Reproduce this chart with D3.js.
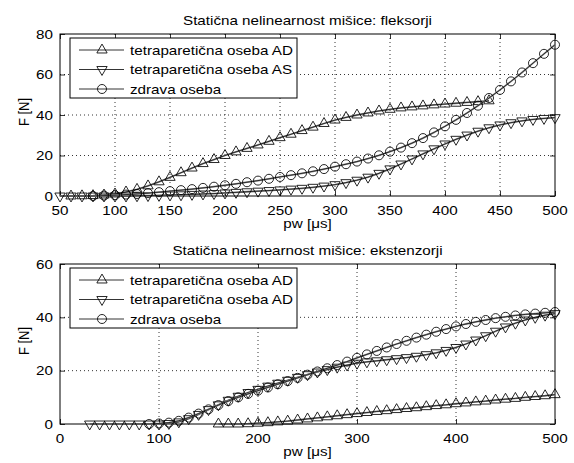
<!DOCTYPE html>
<html>
<head>
<meta charset="utf-8">
<script src="https://cdn.jsdelivr.net/npm/d3@7"></script>
<style>
  body { margin: 0; background: #fff; }
  svg { display: block; font-family: "Liberation Sans", Arial, sans-serif; }
</style>
</head>
<body>
<script>
// flexor panel: pulse width sampled every 10 us
var flexADStart = 60;
var flexAD = [0,0.1,0.2,0.5,1,2,3.3,5,7,9.2,11.5,13.8,16,18,20,21.8,23.5,25.2,27,28.8,
  30.5,32.3,34,35.8,37.5,38.8,40,41,42,42.8,43.5,44,44.5,45,45.4,45.8,46.2,46.6,47];
var flexASStart = 50;
var flexAS = [0,0,0,0,0,0,0,0.1,0.2,0.3,0.5,0.6,0.8,1,1.2,1.5,1.8,2.1,2.4,2.7,3,3.4,3.8,4.3,4.9,
  5.6,6.6,7.8,9.3,11.2,13.4,15.8,18.3,20.8,23.3,25.7,28,30.1,32,33.7,35.1,36.2,37.1,37.8,38.3,38.7];
var flexHealthyStart = 80;
var flexHealthy = [0,0.2,0.4,0.7,1,1.4,1.9,2.4,2.9,3.4,4,4.6,5.3,6,6.8,7.6,8.5,9.4,10.3,11.2,
  12.2,13.3,14.5,15.7,17,18.5,20.1,21.9,23.9,26.1,28.6,31.4,34.4,37.6,41,44.6,48.4,52.4,56.6,61,
  65.6,70.2,74.7];

// extensor panel
var extADStart = 160;
var extAD = [0,0,0,0.1,0.3,0.5,0.8,1.1,1.5,1.9,2.3,2.7,3.1,3.5,3.9,4.3,4.7,5,5.4,5.8,6.1,6.5,
  6.9,7.2,7.6,7.9,8.3,8.6,9,9.3,9.6,10,10.3,10.6,11];
var extAD2Start = 30;
var extAD2 = [0,0,0,0,0,0,0,0,0.2,0.8,2,3.6,5.4,7.2,8.9,10.4,11.8,13,14.2,15.3,16.4,17.5,18.5,
  19.5,20.4,21.3,22.1,22.8,23.3,23.7,24.1,24.5,24.9,25.4,26,26.7,27.6,28.7,30,31.5,33.1,34.8,
  36.4,37.8,39,40,40.8,41.4];
var extHealthyStart = 90;
var extHealthy = [0,0.2,0.5,1.2,2.4,3.9,5.5,7.1,8.6,10,11.3,12.5,13.7,14.9,16.1,17.3,18.5,19.7,
  20.9,22.1,23.4,24.8,26.1,27.4,28.7,30,31.2,32.4,33.5,34.6,35.6,36.6,37.5,38.3,39,39.7,40.2,
  40.7,41.1,41.4,41.7,42];

var pwStep = 10;

var flexXTicks = [50,100,150,200,250,300,350,400,450,500];
var flexYTicks = [0,20,40,60,80];
var extXTicks = [0,100,200,300,400,500];
var extYTicks = [0,20,40,60];

var flexTitle = "Statična nelinearnost mišice: fleksorji";
var extTitle = "Statična nelinearnost mišice: ekstenzorji";
var flexLabels = ["tetraparetična oseba AD", "tetraparetična oseba AS", "zdrava oseba"];
var extLabels = ["tetraparetična oseba AD", "tetraparetična oseba AD", "zdrava oseba"];
var xLabel = "pw [μs]";
var yLabel = "F [N]";

function toPoints(start, values) {
  return values.map(function(v, i) { return { pw: start + i * pwStep, f: v }; });
}

var W = 574, H = 463;
var fontSize = 13;
var stretch = 1.17;   // reference text is a bit wide

var svg = d3.select("body").append("svg")
  .attr("width", W)
  .attr("height", H);

function addText(g, x, y, str, anchor, rotate) {
  return g.append("text")
    .attr("transform", "translate(" + x + "," + y + ") scale(" + stretch + ",1)" + (rotate ? " rotate(-90)" : ""))
    .attr("text-anchor", anchor)
    .style("font-size", fontSize + "px")
    .style("fill", "black")
    .text(str);
}

var triUp = d3.symbol().type(d3.symbolTriangle).size(46);
var circ = d3.symbol().type(d3.symbolCircle).size(64);

function marker(g, kind, cx, cy) {
  var p = g.append("path")
    .attr("fill", "none")
    .attr("stroke", "black")
    .attr("stroke-width", 0.85);
  if (kind === "up") p.attr("d", triUp()).attr("transform", "translate(" + cx + "," + cy + ")");
  else if (kind === "down") p.attr("d", triUp()).attr("transform", "translate(" + cx + "," + cy + ") rotate(180)");
  else p.attr("d", circ()).attr("transform", "translate(" + cx + "," + cy + ")");
}

function drawPanel(cfg) {
  var left = 60, right = 555;
  var x = d3.scaleLinear().domain(cfg.xDomain).range([left, right]);
  var y = d3.scaleLinear().domain(cfg.yDomain).range([cfg.bottom, cfg.top]);
  var g = svg.append("g");

  //======//
  // Grid //
  //======//
  g.selectAll(".vgrid")
    .data(cfg.xTicks.slice(1, -1))
    .enter().append("line")
    .attr("x1", function(d) { return x(d); })
    .attr("x2", function(d) { return x(d); })
    .attr("y1", cfg.top).attr("y2", cfg.bottom)
    .style("stroke", "black").style("stroke-width", 0.8)
    .style("stroke-dasharray", "1,3");
  g.selectAll(".hgrid")
    .data(cfg.yTicks.slice(1, -1))
    .enter().append("line")
    .attr("y1", function(d) { return y(d); })
    .attr("y2", function(d) { return y(d); })
    .attr("x1", left).attr("x2", right)
    .style("stroke", "black").style("stroke-width", 0.8)
    .style("stroke-dasharray", "1,3");

  //=====================//
  // Axes, ticks on all 4 //
  //=====================//
  var tl = 5;
  g.append("g").attr("transform", "translate(0," + cfg.bottom + ")")
    .call(d3.axisBottom(x).tickValues(cfg.xTicks).tickSizeInner(-tl).tickSizeOuter(0).tickFormat(""));
  g.append("g").attr("transform", "translate(0," + cfg.top + ")")
    .call(d3.axisTop(x).tickValues(cfg.xTicks).tickSizeInner(-tl).tickSizeOuter(0).tickFormat(""));
  g.append("g").attr("transform", "translate(" + left + ",0)")
    .call(d3.axisLeft(y).tickValues(cfg.yTicks).tickSizeInner(-tl).tickSizeOuter(0).tickFormat(""));
  g.append("g").attr("transform", "translate(" + right + ",0)")
    .call(d3.axisRight(y).tickValues(cfg.yTicks).tickSizeInner(-tl).tickSizeOuter(0).tickFormat(""));
  g.selectAll(".domain").remove();
  g.selectAll(".tick line").style("stroke", "black").style("stroke-width", 0.8);

  g.append("rect")
    .attr("x", left).attr("y", cfg.top)
    .attr("width", right - left).attr("height", cfg.bottom - cfg.top)
    .style("fill", "none").style("stroke", "black").style("stroke-width", 1);

  cfg.xTicks.forEach(function(t) { addText(g, x(t), cfg.bottom + 19, t, "middle"); });
  cfg.yTicks.forEach(function(t) { addText(g, left - 7, y(t) + 4.5, t, "end"); });

  addText(g, (left + right) / 2, cfg.bottom + 32, xLabel, "middle");
  addText(g, 29, (cfg.top + cfg.bottom) / 2 - 3, yLabel, "middle", true);
  addText(g, (left + right) / 2, cfg.top - 9, cfg.title, "middle");

  //=============//
  // Data series //
  //=============//
  var line = d3.line()
    .x(function(d) { return x(d.pw); })
    .y(function(d) { return y(d.f); });

  cfg.series.forEach(function(s) {
    var pts = toPoints(s.start, s.values);
    g.append("path").datum(pts)
      .attr("d", line)
      .style("fill", "none").style("stroke", "#8c8c8c").style("stroke-width", 1.8);
    g.append("path").datum(pts)
      .attr("d", line)
      .style("fill", "none").style("stroke", "black").style("stroke-width", 0.7);
    pts.forEach(function(d) { marker(g, s.kind, x(d.pw), y(d.f)); });
  });

  //========//
  // Legend //
  //========//
  var lx = 70, ly = cfg.top + 4;
  g.append("rect")
    .attr("x", lx).attr("y", ly)
    .attr("width", 227).attr("height", 60)
    .style("fill", "white").style("stroke", "black").style("stroke-width", 1);
  cfg.series.forEach(function(s, i) {
    var ry = ly + 12 + i * 19.5;
    g.append("line")
      .attr("x1", 79).attr("x2", 124).attr("y1", ry).attr("y2", ry)
      .style("stroke", "black").style("stroke-width", 0.8);
    marker(g, s.kind, 102, ry);
    addText(g, 130, ry + 4.5, cfg.labels[i], "start");
  });
}

drawPanel({
  top: 34, bottom: 196,
  xDomain: [50, 500], yDomain: [0, 80],
  xTicks: flexXTicks, yTicks: flexYTicks,
  title: flexTitle, labels: flexLabels,
  series: [
    { kind: "up", start: flexADStart, values: flexAD },
    { kind: "down", start: flexASStart, values: flexAS },
    { kind: "circle", start: flexHealthyStart, values: flexHealthy }
  ]
});

drawPanel({
  top: 264, bottom: 424,
  xDomain: [0, 500], yDomain: [0, 60],
  xTicks: extXTicks, yTicks: extYTicks,
  title: extTitle, labels: extLabels,
  series: [
    { kind: "up", start: extADStart, values: extAD },
    { kind: "down", start: extAD2Start, values: extAD2 },
    { kind: "circle", start: extHealthyStart, values: extHealthy }
  ]
});
</script>
</body>
</html>
